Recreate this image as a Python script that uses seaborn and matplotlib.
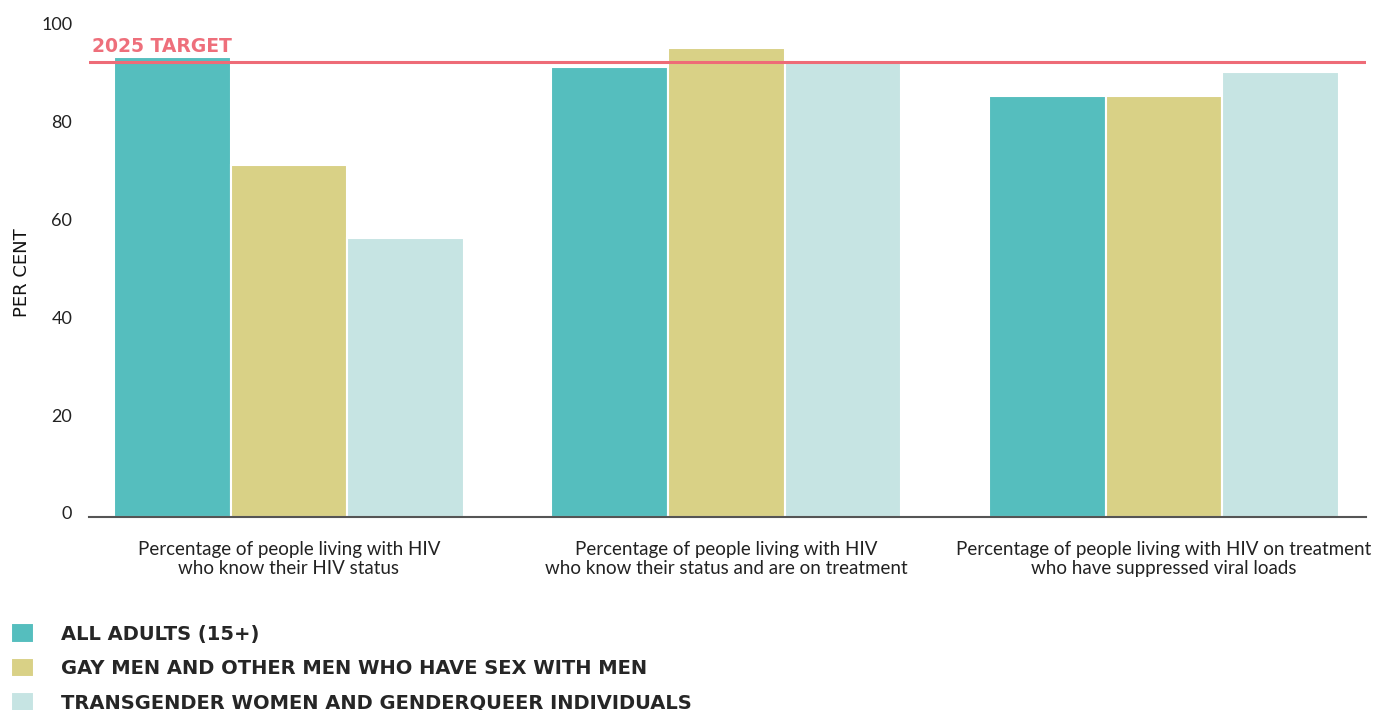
import matplotlib
matplotlib.use("Agg")
import matplotlib.pyplot as plt
import matplotlib.transforms as mtransforms
import seaborn as sns
import pandas as pd

# ---- data ----
categories = [
    "Percentage of people living with HIV\nwho know their HIV status",
    "Percentage of people living with HIV\nwho know their status and are on treatment",
    "Percentage of people living with HIV on treatment\nwho have suppressed viral loads",
]
groups = [
    "ALL ADULTS (15+)",
    "GAY MEN AND OTHER MEN WHO HAVE SEX WITH MEN",
    "TRANSGENDER WOMEN AND GENDERQUEER INDIVIDUALS",
]
all_adults = [94, 92, 86]
gay_men = [72, 96, 86]
transgender = [57, 93, 91]
target = 93
target_label = "2025 TARGET"

colors = ["#55BEBE", "#D9D186", "#C6E4E3"]

df = pd.DataFrame({
    "category": categories * 3,
    "group": [groups[0]] * 3 + [groups[1]] * 3 + [groups[2]] * 3,
    "value": all_adults + gay_men + transgender,
})

sns.set_style("white")
plt.rcParams["font.family"] = ["Lato", "DejaVu Sans"]

fig = plt.figure(figsize=(13.76, 7.10), dpi=100)
ax = fig.add_axes([0.0647, 0.2718, 0.928, 0.6888])

sns.barplot(data=df, x="category", y="value", hue="group", hue_order=groups,
            palette=colors, width=0.8, edgecolor="white", linewidth=1.5,
            saturation=1, ax=ax, legend=True)

# target line drawn above the bars
ax.axhline(target, color="#EE6B77", linewidth=2.2, zorder=5)
ax.text(0.002, target + 1.3, target_label, transform=ax.get_yaxis_transform(),
        color="#EE6F7B", fontsize=13.5, fontweight="bold", ha="left", va="bottom",
        family=["DejaVu Sans"])

ax.set_ylim(0, 100)
ax.set_xlim(-0.457, 2.462)
ax.set_yticks([0, 20, 40, 60, 80, 100])
ax.tick_params(axis="y", length=0, pad=12, labelsize=13, labelcolor="#222222")
ax.tick_params(axis="x", length=0, pad=17, labelsize=13.5, labelcolor="#222222")
shift = mtransforms.ScaledTranslation(0, 3 / 72, fig.dpi_scale_trans)
for t in ax.get_yticklabels():
    t.set_transform(t.get_transform() + shift)
ax.set_xlabel("")
ax.set_ylabel("PER CENT", fontsize=13, color="#111111", family=["DejaVu Sans"])
ax.yaxis.set_label_coords(-0.0525, 0.5)
ax.yaxis.label.set_verticalalignment("center")

for s in ["top", "right", "left"]:
    ax.spines[s].set_visible(False)
ax.spines["bottom"].set_color("#555555")
ax.spines["bottom"].set_linewidth(1.5)

handles, labels = ax.get_legend_handles_labels()
ax.get_legend().remove()
fig.legend(handles, labels, loc="upper left", bbox_to_anchor=(0.008, 0.122),
           frameon=False, handlelength=1.17, handleheight=1.17,
           handletextpad=1.39, labelspacing=0.72, borderpad=0, borderaxespad=0,
           prop={"family": "DejaVu Sans", "weight": "bold", "size": 14})

fig.savefig("out.png", dpi=100)
